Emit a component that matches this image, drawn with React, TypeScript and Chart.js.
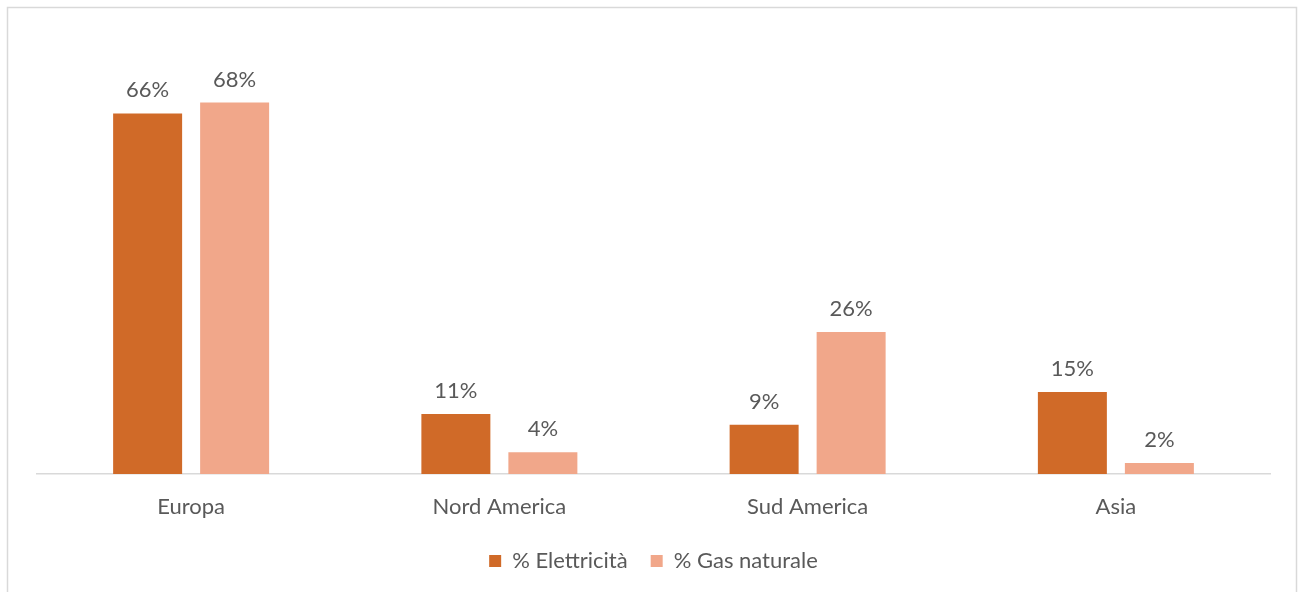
import React, { useEffect, useRef } from "react";
import { Chart, registerables } from "chart.js";

Chart.register(...registerables);

const categories = ["Europa", "Nord America", "Sud America", "Asia"];
const elettricita = [66, 11, 9, 15];
const gasNaturale = [68, 4, 26, 2];
const seriesNames = ["% Elettricità", "% Gas naturale"];
const colors = ["#D06A28", "#F1A78A"];

const FONT = "Lato, 'Open Sans', sans-serif";
const TEXT = "#595959";

const frameAndLabels = {
  id: "frameAndLabels",
  beforeDraw(chart: any) {
    const ctx = chart.ctx;
    ctx.save();
    ctx.fillStyle = "#ffffff";
    ctx.fillRect(0, 0, chart.width, chart.height);
    ctx.strokeStyle = "#D9D9D9";
    ctx.lineWidth = 1.5;
    ctx.strokeRect(7.5, 7.5, 1289, 620);
    ctx.restore();
  },
  afterDatasetsDraw(chart: any) {
    const ctx = chart.ctx;
    ctx.save();
    ctx.fillStyle = TEXT;
    ctx.font = `22px ${FONT}`;
    ctx.textAlign = "center";
    ctx.textBaseline = "alphabetic";
    chart.data.datasets.forEach((ds: any, di: number) => {
      const meta = chart.getDatasetMeta(di);
      meta.data.forEach((bar: any, i: number) => {
        ctx.fillText(`${ds.data[i]}%`, bar.x, bar.y - 16);
      });
    });
    ctx.restore();
  },
};

export default function App() {
  const ref = useRef<HTMLCanvasElement>(null);
  useEffect(() => {
    if (!ref.current) return;
    const chart = new Chart(ref.current, {
      type: "bar",
      data: {
        labels: categories,
        datasets: [
          { label: seriesNames[0], data: elettricita, backgroundColor: colors[0] },
          { label: seriesNames[1], data: gasNaturale, backgroundColor: colors[1] },
        ],
      },
      options: {
        responsive: false,
        animation: false,
        layout: { padding: { left: 37, right: 30, top: 37, bottom: 10 } },
        datasets: {
          bar: { categoryPercentage: 0.5645, barPercentage: 0.793 },
        },
        scales: {
          x: {
            grid: { display: false, drawTicks: false },
            border: { display: true, color: "#D9D9D9", width: 1.5 },
            ticks: { color: TEXT, font: { family: FONT, size: 22 }, padding: 20 },
            afterFit: (scale: any) => {
              scale.height = 53;
            },
          },
          y: { display: false, min: 0, max: 80 },
        },
        plugins: {
          legend: {
            position: "bottom",
            labels: {
              boxWidth: 12,
              boxHeight: 12,
              padding: 23,
              color: TEXT,
              font: { family: FONT, size: 22 },
            },
          },
          tooltip: { enabled: false },
        },
      },
      plugins: [frameAndLabels],
    });
    return () => chart.destroy();
  }, []);
  return (
    <div style={{ position: "absolute", left: 0, top: 0, width: 1300, height: 592 }}>
      <canvas ref={ref} width={1300} height={592} />
    </div>
  );
}
